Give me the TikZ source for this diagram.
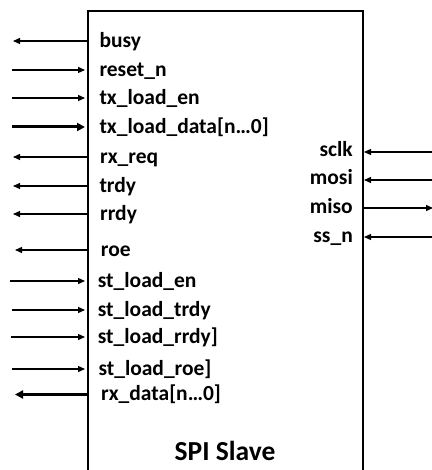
\documentclass[tikz,border=0pt]{standalone}
\usepackage{fontspec}
\setmainfont{Carlito}
\usetikzlibrary{arrows.meta}
\tikzset{
  sig/.style={line width=1.3pt,-{Triangle[length=7pt,width=6pt]}},
  bus/.style={line width=3pt,-{Triangle[length=8pt,width=8pt]}},
  lbl/.style={inner sep=0pt,anchor=base west,font=\fontsize{21.5}{25}\selectfont\bfseries},
  rlbl/.style={inner sep=0pt,anchor=base east,font=\fontsize{21.5}{25}\selectfont\bfseries},
  title/.style={inner sep=0pt,anchor=base,font=\fontsize{27.5}{32}\selectfont\bfseries}
}
\begin{document}
\begin{tikzpicture}[x=1pt,y=-1pt]
\useasboundingbox (0,0) rectangle (431,470);
% block outline (open at the bottom)
\coordinate (bl) at (88,472);
\coordinate (tl) at (88,11.5);
\coordinate (tr) at (363,11.5);
\coordinate (br) at (363,472);
\draw[line width=2pt] (bl) -- (tl) -- (tr) -- (br);
\node[title] (name) at (225,460) {SPI Slave};

% left side: outputs
\foreach \n/\t/\y/\x/\o in {busy/busy/41/99.3/13, rxreq/rx\_req/157/100/13, trdy/trdy/186/99.3/13, rrdy/rrdy/214/100/13, roe/roe/250/100.7/15}{
  \node[lbl] (\n) at (\x,\y+6.5) {\t};
  \coordinate (\n-in) at (88,\y);
  \coordinate (\n-out) at (\o,\y);
  \draw[sig] (\n-in) -- (\n-out);
}
% left side: inputs
\foreach \n/\t/\y/\x/\o in {reset/reset\_n/70/99.3/12, txen/tx\_load\_en/98/99.3/12, sten/st\_load\_en/281/97.7/10, sttrdy/st\_load\_trdy/310/97.7/12, strrdy/st\_load\_rrdy{]}/337/97.7/11, stroe/st\_load\_roe{]}/369/98.3/12}{
  \node[lbl] (\n) at (\x,\y+6.5) {\t};
  \coordinate (\n-in) at (85,\y);
  \coordinate (\n-out) at (\o,\y);
  \draw[sig] (\n-out) -- (\n-in);
}
% left side: buses
\node[lbl] (txdata) at (99.3,133.5) {tx\_load\_data[n…0]};
\coordinate (txdata-in) at (85,127);
\coordinate (txdata-out) at (12,127);
\draw[bus] (txdata-out) -- (txdata-in);
\node[lbl] (rxdata) at (101,400.5) {rx\_data[n…0]};
\coordinate (rxdata-in) at (88,394.5);
\coordinate (rxdata-out) at (15,394.5);
\draw[bus] (rxdata-in) -- (rxdata-out);

% right side
\foreach \n/\t/\y in {sclk/sclk/152, mosi/mosi/180, ssn/ss\_n/237}{
  \node[rlbl] (\n) at (353,\y+5) {\t};
  \coordinate (\n-in) at (364,\y);
  \coordinate (\n-out) at (432,\y);
  \draw[sig] (\n-out) -- (\n-in);
}
\node[rlbl] (miso) at (353,213) {miso};
\coordinate (miso-in) at (363,208);
\coordinate (miso-out) at (433,208);
\draw[sig] (miso-in) -- (miso-out);
\end{tikzpicture}
\end{document}
